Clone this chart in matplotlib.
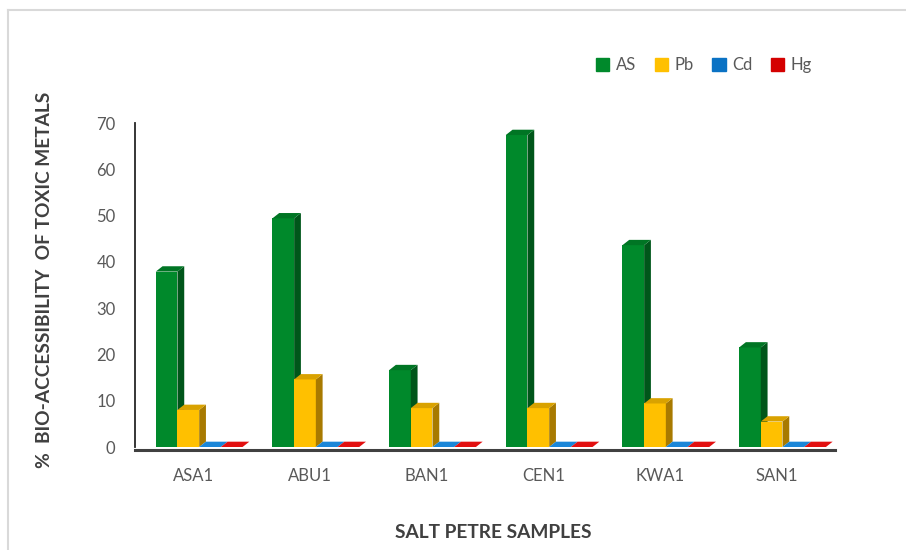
import matplotlib
matplotlib.use("Agg")
import matplotlib.pyplot as plt
from matplotlib.patches import Polygon
from matplotlib.lines import Line2D
import numpy as np

plt.rcParams['font.family'] = ['Lato', 'DejaVu Sans']

categories = ["ASA1", "ABU1", "BAN1", "CEN1", "KWA1", "SAN1"]
series_names = ["AS", "Pb", "Cd", "Hg"]
as_vals = [37.9, 49.4, 16.6, 67.4, 43.6, 21.5]
pb_vals = [8.0, 14.6, 8.4, 8.4, 9.4, 5.5]
cd_vals = [0, 0, 0, 0, 0, 0]
hg_vals = [0, 0, 0, 0, 0, 0]
y_ticks = [0, 10, 20, 30, 40, 50, 60, 70]

front = ["#00892B", "#FFC000", "#0A72C4", "#D40000"]
side = ["#00561A", "#A87A00", "#07508A", "#8A0000"]
top = ["#007524", "#D9A200", "#1A86D8", "#E21010"]

fig = plt.figure(figsize=(9.06, 5.5), dpi=100)
ax = fig.add_axes([135/906, 1-447/550, 700/906, 324/550])

n = len(categories)
ax.set_xlim(0, n)
ax.set_ylim(0, 70)
xc = np.arange(n) + 0.5
w = 0.186
dx = 0.058
dy = 1.15

all_vals = [as_vals, pb_vals, cd_vals, hg_vals]
for i, vals in enumerate(all_vals):
    xs = xc + (i - 1.5) * w + 0.05
    bars = ax.bar(xs, vals, width=w, color=front[i], edgecolor='none',
                  label=series_names[i], zorder=3 + i)
    for b in bars:
        x0 = b.get_x(); x1 = x0 + b.get_width(); h = b.get_height()
        if h > 0:
            ax.add_patch(Polygon([(x1, 0), (x1 + dx, dy), (x1 + dx, h + dy), (x1, h)],
                                 closed=True, facecolor=side[i], edgecolor='none',
                                 zorder=3 + i, clip_on=False))
        ax.add_patch(Polygon([(x0, h), (x1, h), (x1 + dx, h + dy), (x0 + dx, h + dy)],
                             closed=True, facecolor=top[i], edgecolor='none',
                             zorder=3 + i, clip_on=False))

ax.set_yticks(y_ticks)
ax.set_xticks(xc)
ax.set_xticklabels(categories)
ax.tick_params(axis='both', length=0, colors='#595959', labelsize=12)
ax.tick_params(axis='y', pad=14)
ax.tick_params(axis='x', pad=13)
for s in ['top', 'right']:
    ax.spines[s].set_visible(False)
ax.spines['left'].set_color('#262626')
ax.spines['left'].set_linewidth(1.3)
ax.spines['bottom'].set_color('#404040')
ax.spines['bottom'].set_linewidth(2.2)
ax.spines['bottom'].set_position(('outward', 2))

fig.text(45/906, 1-280/550, "%  BIO-ACCESSIBILITY  OF TOXIC METALS", rotation=90,
         ha='center', va='center', fontsize=13.8, fontweight='bold', color='#404040')
fig.text(493/906, 1-533/550, "SALT PETRE SAMPLES", ha='center', va='center',
         fontsize=13.8, fontweight='bold', color='#404040')

handles = [plt.Rectangle((0, 0), 1, 1, color=front[i]) for i in range(4)]
leg = fig.legend(handles, series_names, loc='center', bbox_to_anchor=(704/906, 1-65/550),
                 ncol=4, frameon=False, fontsize=12, handlelength=0.8, handleheight=0.8,
                 handletextpad=0.4, columnspacing=1.1)
for t in leg.get_texts():
    t.set_color('#595959')

fig.add_artist(Line2D([8/906, 8/906], [0, 1-10/550], transform=fig.transFigure,
                      color='#D9D9D9', linewidth=1.5))
fig.add_artist(Line2D([8/906, 1], [1-10/550, 1-10/550], transform=fig.transFigure,
                      color='#D9D9D9', linewidth=1.5))

fig.savefig("out.png", dpi=100)
